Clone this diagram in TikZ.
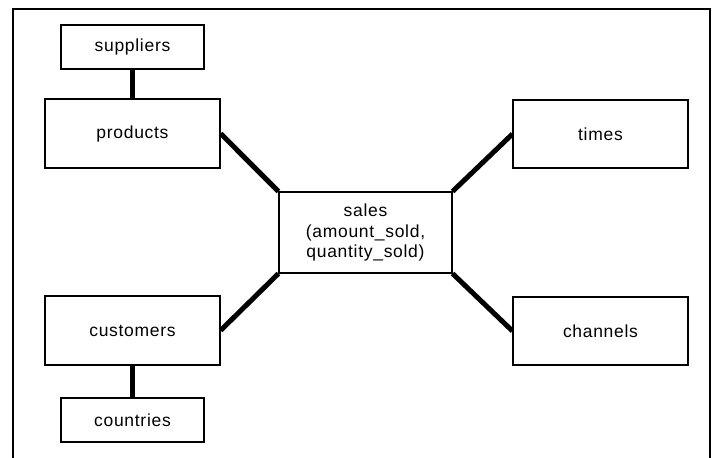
\documentclass[tikz,border=0pt]{standalone}
\usepackage{fontspec}
\setmainfont{Liberation Sans}[LetterSpace=4]
\begin{document}
\begin{tikzpicture}[x=1pt,y=-1pt,
  tbl/.style={draw, line width=1.1pt, fill=white, inner sep=0pt, align=center,
    font=\fontsize{17.5}{20.5}\selectfont},
  link/.style={line width=5pt}]
\useasboundingbox (0,0) rectangle (716,458);
% outer frame (bottom edge lies outside the page)
\draw[line width=1.5pt] (13,458) -- (13,9) -- (710,9) -- (710,458);

\node[tbl, minimum width=143pt, minimum height=44pt] (suppliers) at (132.5,47) {suppliers};
\node[tbl, minimum width=175pt, minimum height=69pt] (products) at (132.5,133.5) {products};
\node[tbl, minimum width=173pt, minimum height=81pt] (sales) at (365.5,232.5) {sales\\(amount\_sold,\\quantity\_sold)};
\node[tbl, minimum width=175pt, minimum height=69pt] (customers) at (132.5,330.5) {customers};
\node[tbl, minimum width=143pt, minimum height=44pt] (countries) at (132.5,420) {countries};
\node[tbl, minimum width=175pt, minimum height=68pt] (times) at (600.5,134) {times};
\node[tbl, minimum width=175pt, minimum height=68pt] (channels) at (600.5,331) {channels};

\draw[link] (suppliers.south) -- (products.north);
\draw[link] (customers.south) -- (countries.north);
\draw[link] (products.east) -- (sales.north west);
\draw[link] (customers.east) -- (sales.south west);
\draw[link] (times.west) -- (sales.north east);
\draw[link] (channels.west) -- (sales.south east);
\end{tikzpicture}
\end{document}
